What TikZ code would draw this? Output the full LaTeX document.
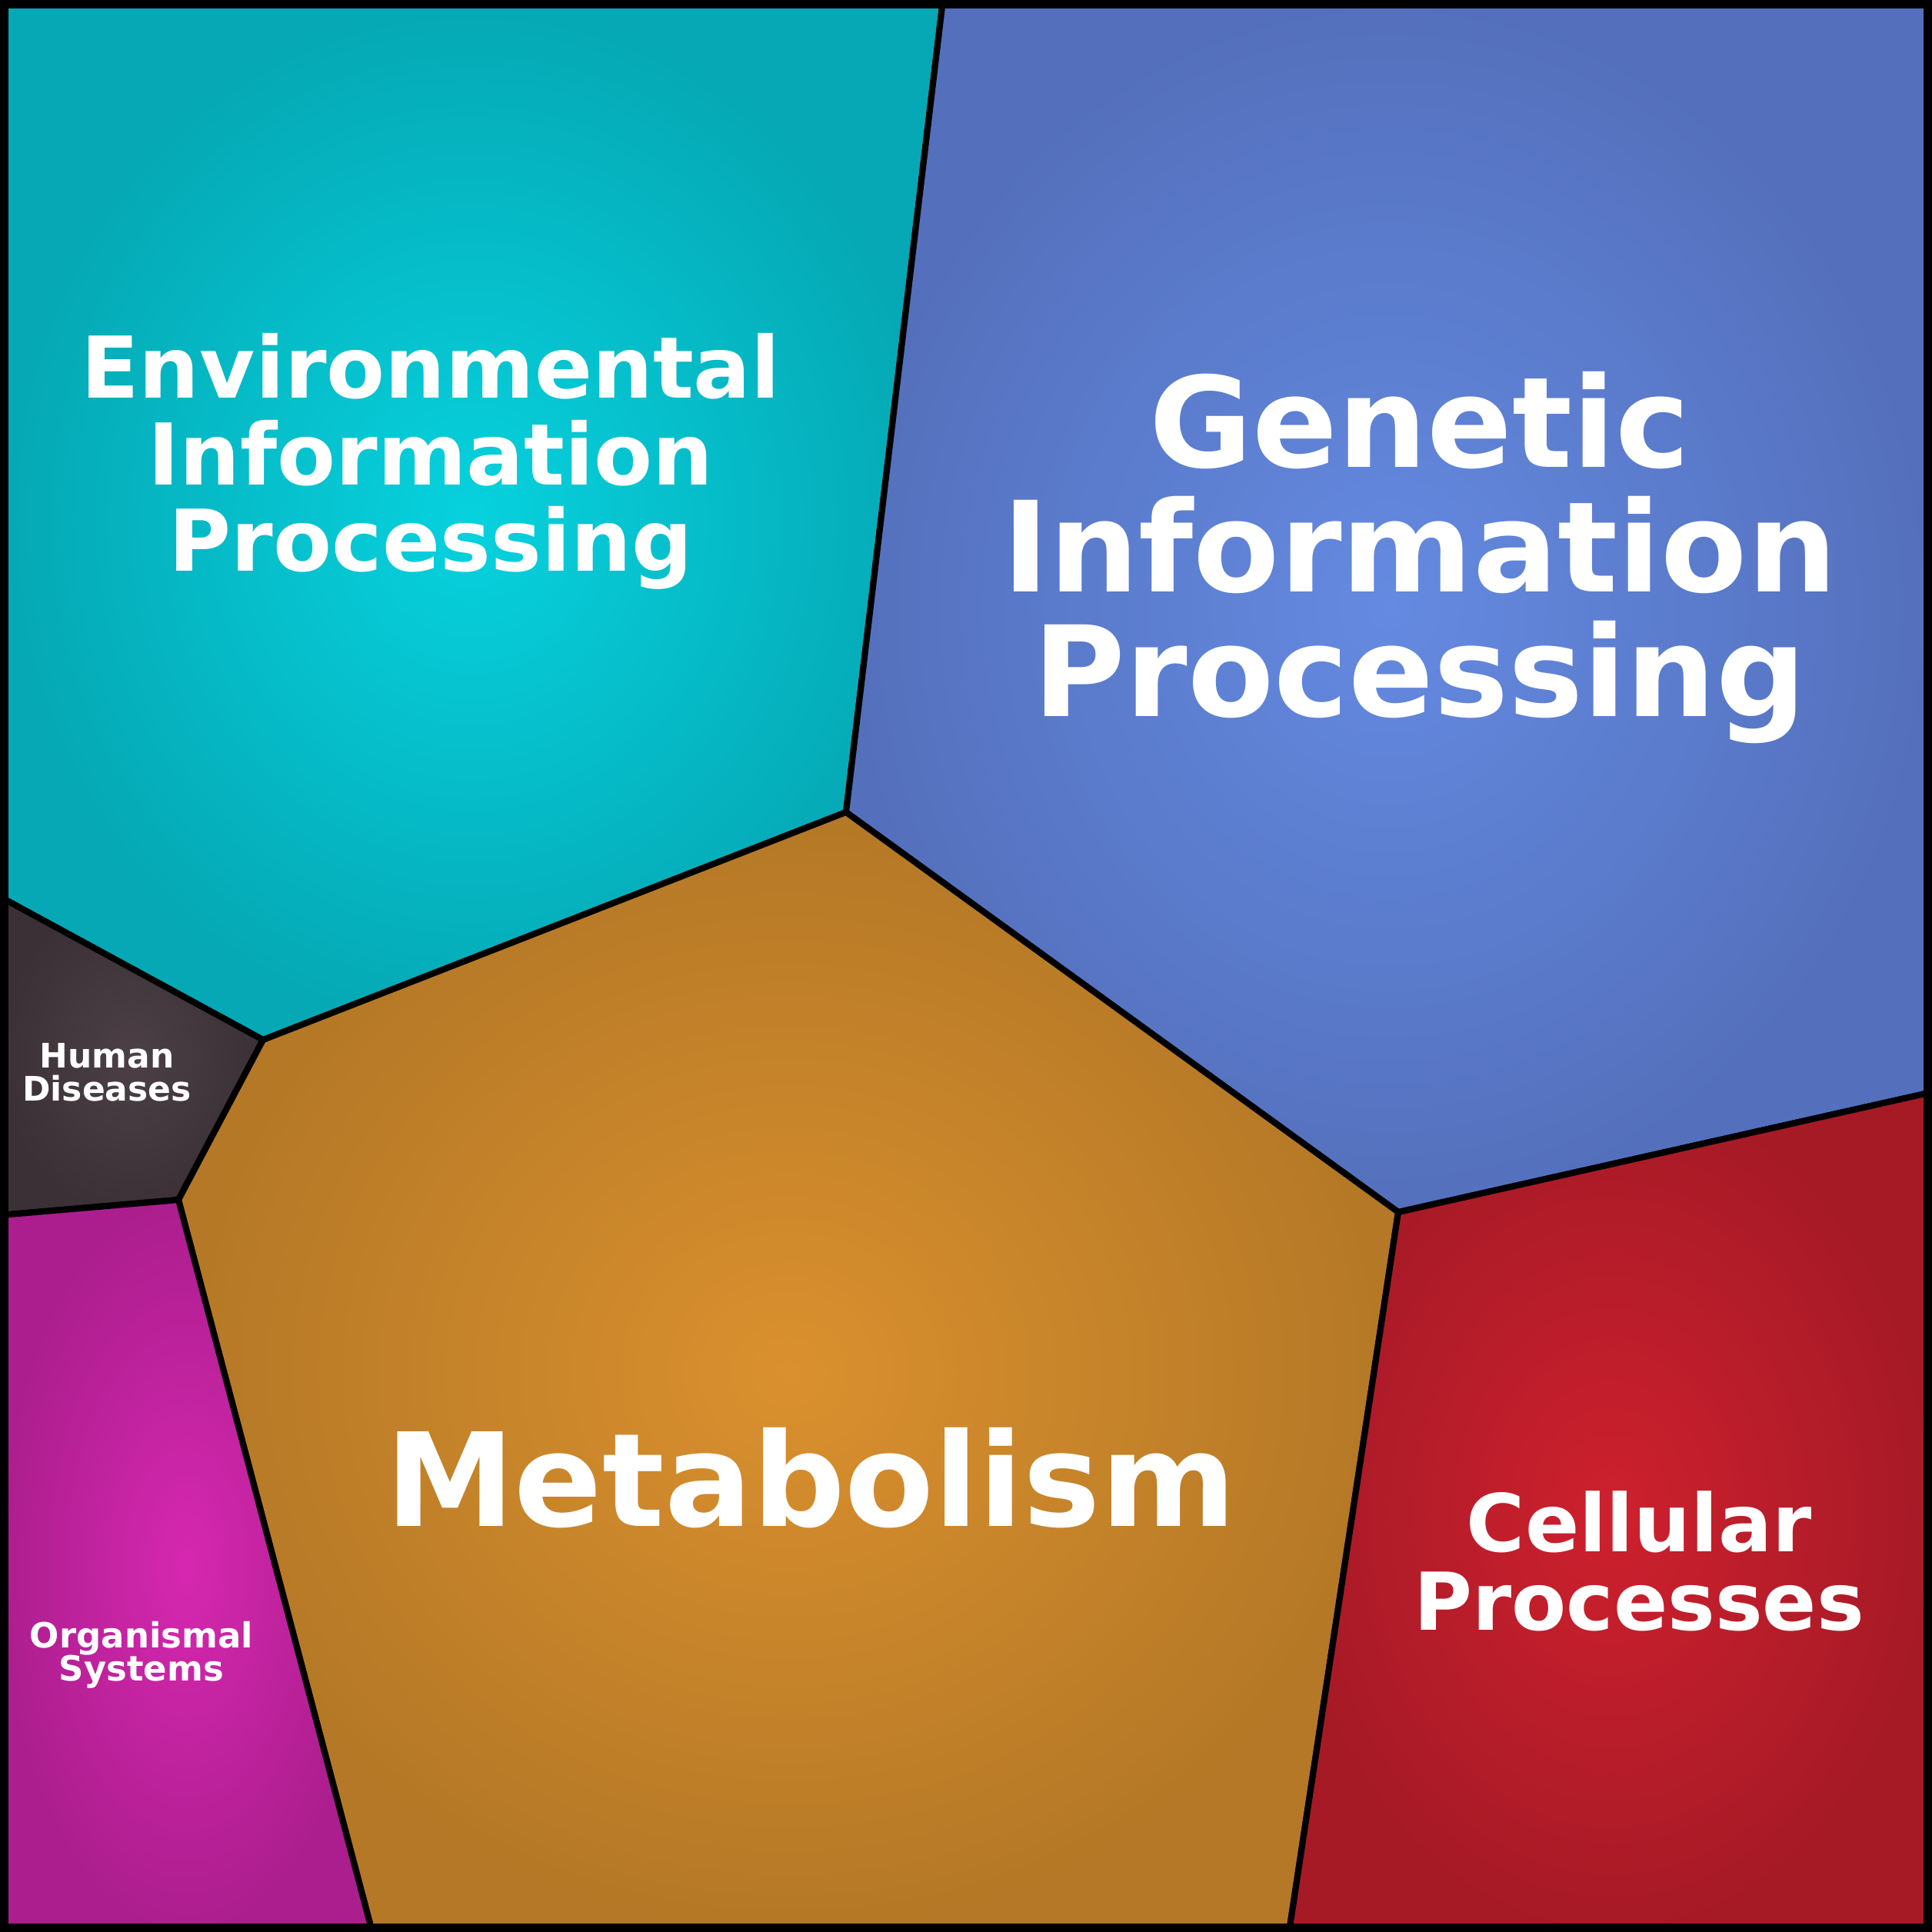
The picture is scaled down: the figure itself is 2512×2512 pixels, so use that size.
\documentclass[tikz,border=0pt]{standalone}
\usepackage{fontspec}
\setmainfont{DejaVu Sans}
\begin{document}
\begin{tikzpicture}[x=0.01cm,y=-0.01cm,
  cell/.style={draw=black,line width=2.3pt,line join=round},
  lab/.style={text=white,align=center,font=\bfseries,inner sep=0pt}]
\useasboundingbox (0,0) rectangle (2512,2512);
\shade[cell,inner color={rgb,255:red,6;green,210;blue,222},outer color={rgb,255:red,5;green,168;blue,180}]
 (0,0)--(1226,0)--(1100,1056)--(342,1352)--(0,1166)--cycle;
\shade[cell,inner color={rgb,255:red,100;green,138;blue,225},outer color={rgb,255:red,84;green,112;blue,188}]
 (1226,0)--(2512,0)--(2512,1420)--(1818,1576)--(1100,1056)--cycle;
\shade[cell,inner color={rgb,255:red,76;green,64;blue,70},outer color={rgb,255:red,58;green,48;blue,54}]
 (0,1166)--(342,1352)--(232,1560)--(0,1580)--cycle;
\shade[cell,inner color={rgb,255:red,218;green,144;blue,46},outer color={rgb,255:red,180;green,120;blue,38}]
 (342,1352)--(1100,1056)--(1818,1576)--(1676,2512)--(484,2512)--(232,1560)--cycle;
\shade[cell,inner color={rgb,255:red,214;green,40;blue,176},outer color={rgb,255:red,172;green,30;blue,142}]
 (0,1580)--(232,1560)--(484,2512)--(0,2512)--cycle;
\shade[cell,inner color={rgb,255:red,206;green,32;blue,46},outer color={rgb,255:red,166;green,26;blue,38}]
 (1818,1576)--(2512,1420)--(2512,2512)--(1676,2512)--cycle;
\draw[line width=6pt] (0,0) rectangle (2512,2512);
\node[lab,font=\bfseries\fontsize{31.5}{32}\selectfont] (env) at (560,600) {Environmental\\Information\\Processing};
\node[lab,font=\bfseries\fontsize{46.5}{46}\selectfont] (gen) at (1846,725) {Genetic\\Information\\Processing};
\node[lab,font=\bfseries\fontsize{48}{45}\selectfont] (met) at (1054,1922) {Metabolism};
\node[lab,font=\bfseries\fontsize{29.5}{29}\selectfont] (cel) at (2131,2030) {Cellular\\Processes};
\node[lab,font=\bfseries\fontsize{12.5}{12.3}\selectfont] (hum) at (139,1394) {Human\\Diseases};
\node[lab,font=\bfseries\fontsize{12.8}{12.3}\selectfont] (org) at (184,2152) {Organismal\\Systems};
\end{tikzpicture}
\end{document}
